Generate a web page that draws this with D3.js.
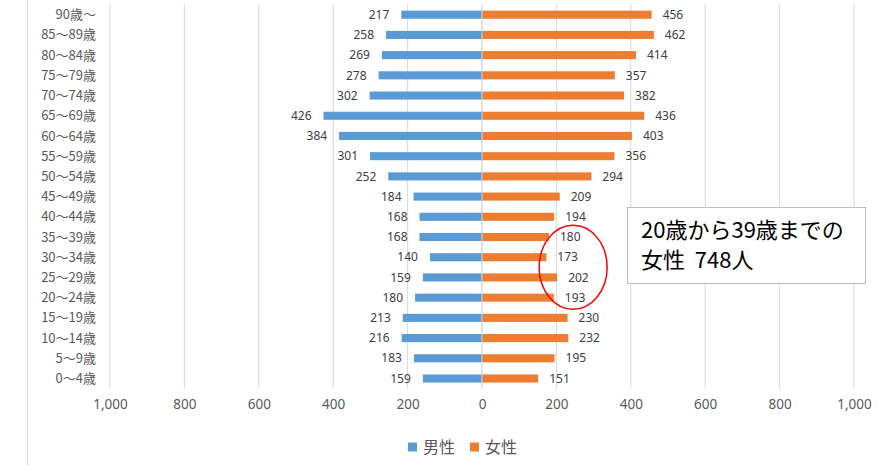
<!DOCTYPE html>
<html>
<head>
<meta charset="utf-8">
<script src="https://cdn.jsdelivr.net/npm/d3@7"></script>
<style>
  body { margin: 0; background: #fff; }
  text { font-family: "Noto Sans CJK JP", "Noto Sans", sans-serif; }
</style>
</head>
<body>
<div id="chart"></div>
<script>
var svgWidth = 887;
var svgHeight = 465;

var ageGroups = ["90歳〜", "85〜89歳", "80〜84歳", "75〜79歳", "70〜74歳", "65〜69歳",
  "60〜64歳", "55〜59歳", "50〜54歳", "45〜49歳", "40〜44歳", "35〜39歳", "30〜34歳",
  "25〜29歳", "20〜24歳", "15〜19歳", "10〜14歳", "5〜9歳", "0〜4歳"];
var male = [217, 258, 269, 278, 302, 426, 384, 301, 252, 184, 168, 168, 140, 159, 180, 213, 216, 183, 159];
var female = [456, 462, 414, 357, 382, 436, 403, 356, 294, 209, 194, 180, 173, 202, 193, 230, 232, 195, 151];
var xTicks = [-1000, -800, -600, -400, -200, 0, 200, 400, 600, 800, 1000];
var seriesNames = ["男性", "女性"];
var colors = ["#5B9BD5", "#ED7D31"];

var plotTop = 4.6, plotBottom = 388.6;

var svg = d3.select("#chart")
  .append("svg")
  .attr("width", svgWidth)
  .attr("height", svgHeight);

// left border of the chart area
svg.append("line")
  .attr("x1", 27.5).attr("x2", 27.5)
  .attr("y1", 0).attr("y2", svgHeight)
  .attr("stroke", "#d9d9d9");

var x = d3.scaleLinear().domain([-1000, 1000]).range([110, 854]);
var y = d3.scaleBand().domain(ageGroups).range([plotTop, plotBottom])
  .paddingInner(0.6).paddingOuter(0.3);

// gridlines
svg.append("g").selectAll("line")
  .data(xTicks)
  .enter()
  .append("line")
  .attr("x1", d => x(d)).attr("x2", d => x(d))
  .attr("y1", plotTop).attr("y2", plotBottom)
  .attr("stroke", "#d9d9d9")
  .attr("stroke-width", 1);

var bottomAxis = d3.axisBottom(x)
  .tickValues(xTicks)
  .tickSize(0)
  .tickPadding(0)
  .tickFormat(d => d3.format(",")(Math.abs(d)));

var xAxis = svg.append("g")
  .attr("transform", `translate(0, ${plotBottom + 11})`)
  .call(bottomAxis);
xAxis.select(".domain").remove();
xAxis.selectAll("text")
  .style("font-family", "'Noto Sans', sans-serif")
  .style("font-size", "13.5px")
  .attr("fill", "#595959");

// category labels
svg.append("g").selectAll("text")
  .data(ageGroups)
  .enter()
  .append("text")
  .attr("x", 96)
  .attr("y", d => y(d) + y.bandwidth() / 2)
  .attr("dy", "0.35em")
  .attr("text-anchor", "end")
  .attr("font-size", "13px")
  .attr("fill", "#595959")
  .text(d => d);

// male bars
svg.append("g").selectAll("rect")
  .data(male)
  .enter()
  .append("rect")
  .attr("x", d => x(-d))
  .attr("y", (d, i) => y(ageGroups[i]))
  .attr("width", d => x(0) - x(-d))
  .attr("height", y.bandwidth())
  .attr("fill", colors[0]);

// female bars
svg.append("g").selectAll("rect")
  .data(female)
  .enter()
  .append("rect")
  .attr("x", x(0))
  .attr("y", (d, i) => y(ageGroups[i]))
  .attr("width", d => x(d) - x(0))
  .attr("height", y.bandwidth())
  .attr("fill", colors[1]);

// value labels
svg.append("g").selectAll("text")
  .data(male)
  .enter()
  .append("text")
  .attr("x", d => x(-d) - 12)
  .attr("y", (d, i) => y(ageGroups[i]) + y.bandwidth() / 2)
  .attr("dy", "0.35em")
  .attr("text-anchor", "end")
  .attr("font-size", "12px")
  .style("font-family", "'Noto Sans', sans-serif")
  .attr("fill", "#404040")
  .text(d => d);

svg.append("g").selectAll("text")
  .data(female)
  .enter()
  .append("text")
  .attr("x", d => x(d) + 11)
  .attr("y", (d, i) => y(ageGroups[i]) + y.bandwidth() / 2)
  .attr("dy", "0.35em")
  .attr("text-anchor", "start")
  .attr("font-size", "12px")
  .style("font-family", "'Noto Sans', sans-serif")
  .attr("fill", "#404040")
  .text(d => d);

// zero line
svg.append("line")
  .attr("x1", x(0)).attr("x2", x(0))
  .attr("y1", plotTop).attr("y2", plotBottom)
  .attr("stroke", "#d9d9d9");

// legend
var legend = svg.append("g").attr("transform", "translate(408, 447)");
var legendX = [0, 62];
seriesNames.forEach(function(name, i) {
  legend.append("rect")
    .attr("x", legendX[i]).attr("y", -4.5)
    .attr("width", 9).attr("height", 9)
    .attr("fill", colors[i]);
  legend.append("text")
    .attr("x", legendX[i] + 15)
    .attr("y", 0)
    .attr("dy", "0.35em")
    .attr("font-size", "16px")
    .attr("fill", "#595959")
    .text(name);
});

// circle around 20-39 female
var cy = (y("30〜34歳") + y("25〜29歳") + y.bandwidth()) / 2;
svg.append("ellipse")
  .attr("cx", x(245))
  .attr("cy", cy)
  .attr("rx", 34)
  .attr("ry", 42)
  .attr("fill", "none")
  .attr("stroke", "#FF0000")
  .attr("stroke-width", 1.5);

// annotation box
var note = svg.append("g");
note.append("rect")
  .attr("x", 627.5).attr("y", 207.5)
  .attr("width", 238).attr("height", 76)
  .attr("fill", "#fff")
  .attr("stroke", "#bfbfbf");
note.append("text")
  .attr("x", 641).attr("y", 230)
  .attr("dy", "0.35em")
  .attr("font-size", "22px")
  .attr("fill", "#000")
  .text("20歳から39歳までの");
note.append("text")
  .attr("x", 641).attr("y", 260)
  .attr("dy", "0.35em")
  .attr("font-size", "22px")
  .attr("fill", "#000")
  .style("white-space", "pre")
  .text("女性  748人");
</script>
</body>
</html>
